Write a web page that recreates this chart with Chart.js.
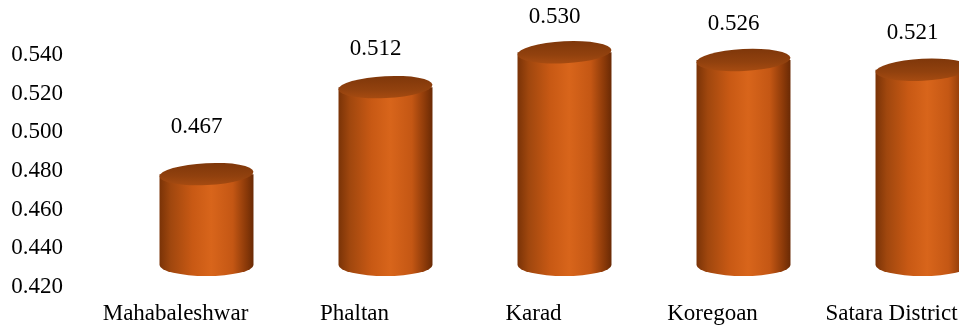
<!DOCTYPE html>
<html>
<head>
<meta charset="utf-8">
<script src="https://cdn.jsdelivr.net/npm/chart.js@4/dist/chart.umd.min.js"></script>
<style>
    html, body { margin: 0; padding: 0; background: #fff; overflow: hidden; }
    #wrap { width: 981px; height: 326px; }
</style>
</head>
<body>
<div id="wrap"><canvas id="ratio-chart"></canvas></div>
<script>
const categories = ['Mahabaleshwar', 'Phaltan', 'Karad', 'Koregoan', 'Satara District']
const ratioValues = [0.467, 0.512, 0.530, 0.526, 0.521]
const yMin = 0.420
const yMax = 0.540
const yStep = 0.020

const serif = '"Liberation Serif", "Times New Roman", serif'

// 3D look: cylinders sit a bit behind the axis plane
const depthX = 31
const depthY = -22
const capRy = 11

function drawCylinder(ctx, cx, top, bottom, rx) {
    let body = ctx.createLinearGradient(cx - rx, 0, cx + rx, 0)
    body.addColorStop(0, '#7a3307')
    body.addColorStop(0.12, '#a0470e')
    body.addColorStop(0.35, '#c85914')
    body.addColorStop(0.55, '#d8651b')
    body.addColorStop(0.78, '#c45714')
    body.addColorStop(0.92, '#8c3a09')
    body.addColorStop(1, '#6a2a05')

    ctx.save()
    ctx.fillStyle = body
    ctx.beginPath()
    ctx.moveTo(cx - rx, top)
    ctx.lineTo(cx - rx, bottom)
    ctx.ellipse(cx, bottom, rx, capRy, 0, Math.PI, 0, true)
    ctx.lineTo(cx + rx, top)
    ctx.closePath()
    ctx.fill()

    let cap = ctx.createLinearGradient(0, top - capRy, 0, top + capRy)
    cap.addColorStop(0, '#7f370a')
    cap.addColorStop(0.6, '#91410e')
    cap.addColorStop(1, '#a64b11')
    ctx.fillStyle = cap
    ctx.beginPath()
    ctx.ellipse(cx, top, rx, capRy, -0.05, 0, Math.PI * 2)
    ctx.fill()
    ctx.restore()
}

const cylinderPlugin = {
    id: 'cylinders',
    afterDatasetsDraw(chart) {
        let ctx = chart.ctx
        let floor = chart.scales.y.getPixelForValue(yMin)
        let meta = chart.getDatasetMeta(0)
        meta.data.forEach((bar, i) => {
            let cx = bar.x + depthX
            drawCylinder(ctx, cx, bar.y + depthY, floor + depthY, bar.width / 2)

            // value labels float above the cylinders, a little closer on tall ones
            ctx.save()
            ctx.fillStyle = '#000'
            ctx.font = '23px ' + serif
            ctx.textAlign = 'center'
            ctx.textBaseline = 'middle'
            ctx.fillText(ratioValues[i].toFixed(3), bar.x + 21, 0.9 * bar.y - 49.5)
            ctx.restore()
        })
    }
}

let chartElement = document.getElementById('ratio-chart').getContext('2d')

let ratioChart = new Chart(chartElement, {
    type: 'bar',
    data: {
        labels: categories,
        datasets: [
            {
                data: ratioValues,
                backgroundColor: 'rgba(0,0,0,0)',
                borderWidth: 0,
                categoryPercentage: 1,
                barPercentage: 0.525
            }
        ]
    },
    options: {
        responsive: true,
        maintainAspectRatio: false,
        animation: false,
        layout: { padding: { top: 55, right: 0, bottom: 0, left: 0 } },
        plugins: {
            legend: { display: false },
            tooltip: { enabled: false }
        },
        scales: {
            x: {
                grid: { display: false, drawTicks: false },
                border: { display: false },
                ticks: {
                    color: '#000',
                    padding: 13,
                    maxRotation: 0,
                    autoSkip: false,
                    font: { family: serif, size: 23 }
                },
                afterFit: scale => { scale.height = 39 }
            },
            y: {
                min: yMin,
                max: yMax,
                grid: { display: false, drawTicks: false },
                border: { display: false },
                ticks: {
                    stepSize: yStep,
                    color: '#000',
                    padding: 23,
                    font: { family: serif, size: 23 },
                    callback: value => value.toFixed(3)
                },
                afterFit: scale => { scale.width = 86 }
            }
        }
    },
    plugins: [cylinderPlugin]
})
</script>
</body>
</html>
